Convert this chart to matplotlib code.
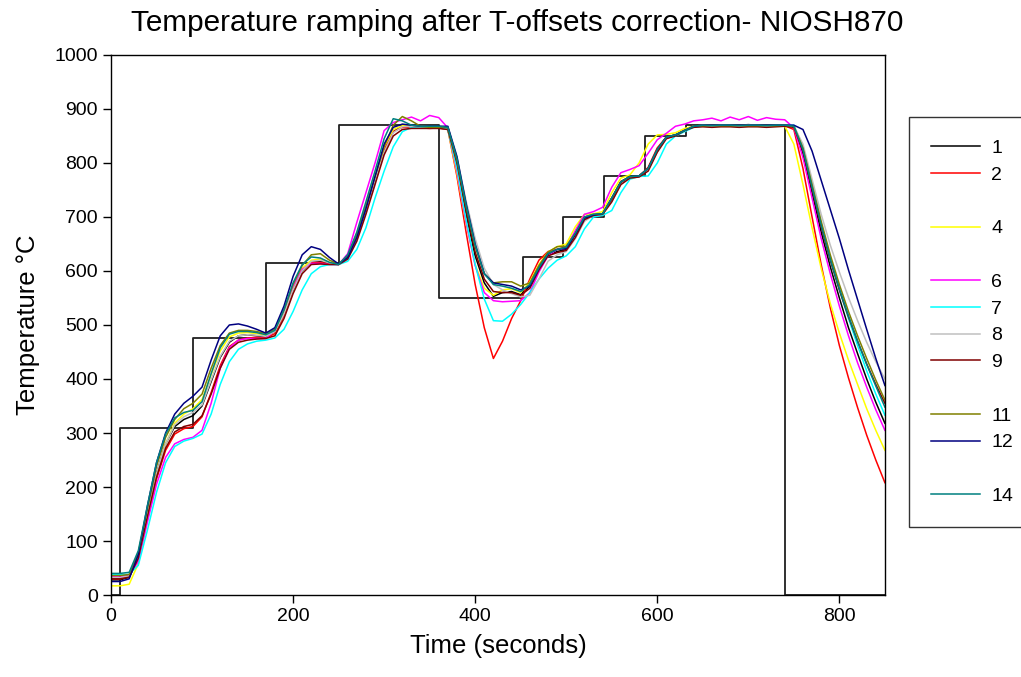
import matplotlib
matplotlib.use("Agg")
import matplotlib.pyplot as plt
from matplotlib.lines import Line2D

plt.rcParams['font.family'] = ['Liberation Sans', 'DejaVu Sans']

# time grid (seconds), one reading every 10 s
time_s = list(range(0, 860, 10))

# setpoint program (step)
sp_time = [0, 10, 90, 170, 250, 360, 452, 496, 541, 586, 631, 740, 850]
sp_temp = [0, 310, 475, 615, 870, 550, 625, 700, 775, 850, 870, 0, 0]

s1 = [28, 28, 33, 70, 150, 225, 280, 312, 325, 332,
      350, 395, 440, 468, 480, 482, 480, 478, 488, 520, 565, 600, 617, 618, 614, 612,
      625, 662, 712, 768, 822, 858, 868, 868, 867, 867, 867,
      862, 795, 705, 628, 578, 553, 560, 562, 556, 572,
      605, 630, 636, 640, 668, 698, 705, 706, 732, 764, 775, 776, 790, 825, 848, 852, 860, 868,
      870, 870, 869, 870, 870, 871, 870, 870, 870,
      870, 868, 818, 745, 672, 608, 550, 495, 447, 400, 357, 318]
s2 = [30, 30, 34, 68, 145, 215, 268, 298, 308, 312,
      330, 375, 425, 460, 472, 476, 477, 476, 484, 518, 568, 602, 616, 616, 613, 612,
      625, 665, 718, 772, 825, 858, 866, 866, 865, 864, 865,
      862, 775, 672, 575, 495, 438, 470, 512, 545, 585,
      620, 636, 640, 645, 672, 700, 703, 705, 735, 766, 774, 775, 792, 828, 848, 852, 862, 868,
      869, 869, 868, 869, 869, 870, 869, 869, 869,
      869, 862, 790, 700, 612, 532, 462, 402, 347, 296, 250, 208]
s4 = [17, 17, 20, 58, 140, 220, 280, 318, 335, 345,
      362, 408, 452, 478, 485, 486, 484, 481, 490, 525, 572, 605, 620, 622, 616, 612,
      628, 670, 722, 778, 830, 862, 869, 868, 868, 867, 867,
      862, 780, 688, 612, 568, 555, 565, 567, 560, 580,
      612, 635, 645, 650, 682, 705, 706, 710, 745, 772, 778, 800, 835, 852, 853, 856, 864, 868,
      868, 869, 868, 868, 869, 868, 868, 869, 868,
      868, 835, 760, 680, 605, 540, 485, 435, 390, 345, 305, 268]
s6 = [35, 35, 36, 62, 135, 205, 255, 280, 288, 292,
      305, 355, 420, 458, 472, 475, 475, 475, 490, 528, 572, 603, 614, 614, 612, 612,
      632, 690, 745, 800, 860, 875, 880, 885, 878, 888, 884,
      865, 785, 690, 610, 560, 545, 543, 544, 545, 560,
      598, 628, 640, 642, 675, 705, 710, 718, 755, 782, 788, 795, 818, 843, 855, 868, 872, 878,
      880, 883, 878, 885, 880, 886, 879, 884, 881,
      880, 865, 810, 735, 660, 595, 535, 480, 430, 385, 343, 305]
s7 = [38, 38, 38, 55, 120, 190, 245, 275, 285, 290,
      298, 335, 390, 432, 455, 465, 470, 472, 476, 492, 525, 565, 595, 608, 612, 612,
      618, 640, 680, 735, 785, 830, 858, 866, 866, 866, 866,
      862, 790, 695, 612, 548, 508, 507, 520, 538, 560,
      585, 605, 620, 628, 645, 678, 700, 703, 712, 745, 770, 775, 776, 800, 835, 850, 858, 866,
      869, 870, 869, 869, 870, 869, 869, 870, 869,
      870, 870, 830, 760, 688, 622, 565, 512, 462, 415, 372, 333]
s8 = [32, 32, 35, 70, 150, 225, 280, 315, 330, 338,
      352, 398, 442, 470, 480, 482, 481, 479, 488, 520, 565, 600, 618, 620, 615, 612,
      625, 662, 712, 768, 820, 856, 867, 868, 867, 867, 867,
      866, 810, 730, 660, 605, 575, 565, 558, 552, 555,
      585, 618, 630, 636, 660, 692, 703, 705, 728, 760, 773, 775, 788, 820, 846, 851, 860, 868,
      870, 869, 870, 870, 869, 870, 870, 869, 870,
      870, 868, 835, 770, 705, 648, 598, 551, 508, 468, 432, 400]
s9 = [30, 30, 33, 68, 145, 218, 272, 302, 312, 316,
      332, 372, 420, 455, 468, 472, 474, 475, 480, 512, 558, 595, 612, 613, 612, 612,
      622, 655, 705, 760, 815, 850, 862, 864, 864, 864, 864,
      862, 800, 712, 635, 585, 562, 560, 560, 555, 568,
      602, 628, 634, 638, 662, 695, 703, 705, 728, 760, 772, 774, 785, 820, 845, 850, 860, 866,
      867, 866, 867, 867, 866, 867, 867, 866, 867,
      868, 866, 822, 752, 682, 620, 565, 515, 470, 428, 390, 355]
s11 = [36, 36, 38, 78, 160, 238, 292, 325, 345, 355,
       372, 420, 462, 485, 490, 490, 488, 484, 492, 528, 575, 610, 630, 632, 620, 613,
       628, 668, 720, 775, 830, 870, 886, 878, 868, 866, 866,
       866, 805, 720, 645, 595, 578, 580, 580, 572, 578,
       610, 635, 645, 646, 670, 700, 705, 706, 735, 765, 775, 776, 790, 825, 848, 852, 860, 868,
       869, 870, 869, 869, 870, 869, 869, 870, 869,
       870, 868, 828, 760, 692, 630, 575, 525, 480, 438, 398, 361]
s12 = [25, 25, 30, 75, 165, 245, 300, 335, 355, 368,
       385, 435, 480, 500, 502, 498, 492, 485, 495, 535, 590, 630, 645, 640, 625, 613,
       625, 662, 715, 775, 835, 866, 872, 870, 868, 868, 868,
       868, 812, 725, 650, 595, 578, 575, 572, 565, 572,
       605, 632, 640, 642, 668, 698, 704, 706, 735, 765, 775, 776, 790, 825, 848, 852, 860, 868,
       870, 870, 870, 870, 870, 870, 870, 870, 870,
       870, 870, 862, 822, 768, 714, 660, 602, 547, 492, 438, 388]
s14 = [40, 40, 42, 82, 165, 245, 298, 328, 338, 342,
       358, 410, 458, 483, 488, 488, 486, 482, 490, 528, 578, 612, 626, 624, 616, 612,
       630, 672, 728, 785, 845, 882, 878, 870, 868, 868, 868,
       866, 808, 722, 648, 595, 575, 572, 568, 562, 575,
       606, 632, 640, 644, 670, 700, 705, 706, 735, 765, 775, 776, 790, 825, 848, 852, 860, 868,
       870, 869, 870, 870, 869, 870, 870, 869, 870,
       870, 868, 825, 755, 685, 622, 567, 517, 470, 427, 387, 348]

series_labels = ['1', '2', '4', '6', '7', '8', '9', '11', '12', '14']
series_values = [s1, s2, s4, s6, s7, s8, s9, s11, s12, s14]
series_colors = ['#000000', '#ff0000', '#ffff00', '#ff00ff', '#00ffff',
                 '#c0c0c0', '#800000', '#808000', '#000080', '#008080']
legend_slots = ['1', '2', '', '4', '', '6', '7', '8', '9', '', '11', '12', '', '14']

fig = plt.figure(figsize=(10.21, 6.77), dpi=100)
ax = fig.add_axes([0.1087, 0.1211, 0.758, 0.7977])

ax.step(sp_time, sp_temp, where='post', color='#202020', lw=1.3, zorder=1)

handles = {}
for lab, vals, col in zip(series_labels, series_values, series_colors):
    ln, = ax.plot(time_s, vals, color=col, lw=1.1, zorder=2,
                  solid_joinstyle='round')
    handles[lab] = ln

ax.set_xlim(0, 850)
ax.set_ylim(0, 1000)
ax.set_xticks([0, 200, 400, 600, 800])
ax.set_yticks(range(0, 1001, 100))
ax.tick_params(direction='out', length=6, width=1, labelsize=14, top=False, right=False)
for sp in ax.spines.values():
    sp.set_linewidth(1.0)

ax.set_xlabel('Time (seconds)', fontsize=18.5, labelpad=6)
ax.set_ylabel('Temperature °C', fontsize=18.5, labelpad=10)
fig.text(0.507, 0.966, 'Temperature ramping after T-offsets correction- NIOSH870',
         ha='center', va='center', fontsize=21.4)

leg_handles = []
for s in legend_slots:
    if s:
        leg_handles.append(Line2D([], [], color=handles[s].get_color(), lw=1.1))
    else:
        leg_handles.append(Line2D([], [], color='none', lw=1.0))
leg = fig.legend(leg_handles, [s if s else ' ' for s in legend_slots],
                 loc='upper left', bbox_to_anchor=(0.890, 0.827),
                 fontsize=14, frameon=True, fancybox=False, edgecolor='black',
                 handlelength=2.5, handletextpad=0.6, labelspacing=0.47,
                 borderpad=1.15, borderaxespad=0)
leg.get_frame().set_linewidth(1.0)

fig.savefig('out.png', dpi=100)
